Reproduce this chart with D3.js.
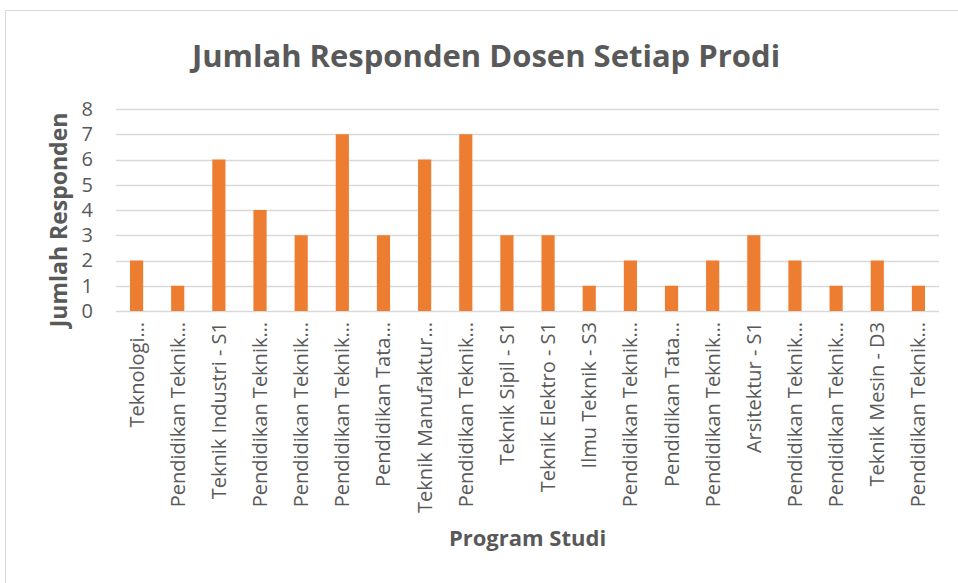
<!DOCTYPE html>
<html>
<head>
<meta charset="utf-8">
<script src="https://cdn.jsdelivr.net/npm/d3@7"></script>
<style>
  body { margin: 0; background: #fff; }
  text { font-family: "Open Sans", sans-serif; fill: #595959; }
</style>
</head>
<body>
<div id="chart"></div>
<script>
const categories = [
  "Teknologi…", "Pendidikan Teknik…", "Teknik Industri - S1", "Pendidikan Teknik…",
  "Pendidikan Teknik…", "Pendidikan Teknik…", "Pendidikan Tata…", "Teknik Manufaktur…",
  "Pendidikan Teknik…", "Teknik Sipil - S1", "Teknik Elektro - S1", "Ilmu Teknik - S3",
  "Pendidikan Teknik…", "Pendidikan Tata…", "Pendidikan Teknik…", "Arsitektur - S1",
  "Pendidikan Teknik…", "Pendidikan Teknik…", "Teknik Mesin - D3", "Pendidikan Teknik…"
];
const values = [2, 1, 6, 4, 3, 7, 3, 6, 7, 3, 3, 1, 2, 1, 2, 3, 2, 1, 2, 1];
const yTicks = [0, 1, 2, 3, 4, 5, 6, 7, 8];

const width = 958, height = 583;
const margin = { top: 109, right: 19, bottom: 272, left: 116 };

const svg = d3.select("#chart").append("svg")
  .attr("width", width)
  .attr("height", height);

// chart area frame
svg.append("rect")
  .attr("x", 5.5).attr("y", 10.5)
  .attr("width", 1000).attr("height", 1000)
  .attr("fill", "#fff")
  .attr("stroke", "#d9d9d9");

const x = d3.scaleBand()
  .domain(d3.range(categories.length))
  .range([margin.left, width - margin.right])
  .paddingInner(0.68)
  .paddingOuter(0.34);

const y = d3.scaleLinear()
  .domain([0, 8])
  .range([height - margin.bottom, margin.top]);

// gridlines
svg.append("g")
  .selectAll("line")
  .data(yTicks)
  .join("line")
  .attr("x1", margin.left)
  .attr("x2", width - margin.right)
  .attr("y1", d => Math.round(y(d)) + 0.5)
  .attr("y2", d => Math.round(y(d)) + 0.5)
  .attr("stroke", "#d9d9d9")
  .attr("stroke-width", 1.5);

// y axis labels
const yAxis = svg.append("g")
  .attr("transform", `translate(${margin.left},0)`)
  .call(d3.axisLeft(y).tickValues(yTicks).tickSize(0).tickPadding(23));
yAxis.select(".domain").remove();
yAxis.selectAll("text")
  .style("font-family", "'Open Sans', sans-serif")
  .style("font-size", "20px")
  .attr("fill", "#595959");

// bars
svg.append("g")
  .selectAll("rect")
  .data(values)
  .join("rect")
  .attr("x", (d, i) => x(i))
  .attr("width", x.bandwidth())
  .attr("y", d => y(d))
  .attr("height", d => y(0) - y(d))
  .attr("fill", "#ed7d31");

// x axis labels
const xAxis = svg.append("g")
  .attr("transform", `translate(0,${y(0)})`)
  .call(d3.axisBottom(x).tickFormat(i => categories[i]).tickSize(0));
xAxis.select(".domain").remove();
xAxis.selectAll("text")
  .style("font-family", "'Open Sans', sans-serif")
  .style("font-size", "20px")
  .attr("fill", "#595959")
  .attr("text-anchor", "end")
  .attr("dy", "0.35em")
  .attr("transform", "translate(0,11) rotate(-90)")
  .attr("x", 0).attr("y", 0);

// title
svg.append("text")
  .attr("x", 486).attr("y", 67)
  .attr("text-anchor", "middle")
  .style("font-size", "31px")
  .style("font-weight", "bold")
  .text("Jumlah Responden Dosen Setiap Prodi");

// axis titles
svg.append("text")
  .attr("transform", "translate(67,220) rotate(-90)")
  .attr("text-anchor", "middle")
  .style("font-size", "23px")
  .style("font-weight", "bold")
  .text("Jumlah Responden");

svg.append("text")
  .attr("x", (margin.left + width - margin.right) / 2)
  .attr("y", 546)
  .attr("text-anchor", "middle")
  .style("font-size", "22px")
  .style("font-weight", "bold")
  .text("Program Studi");
</script>
</body>
</html>
